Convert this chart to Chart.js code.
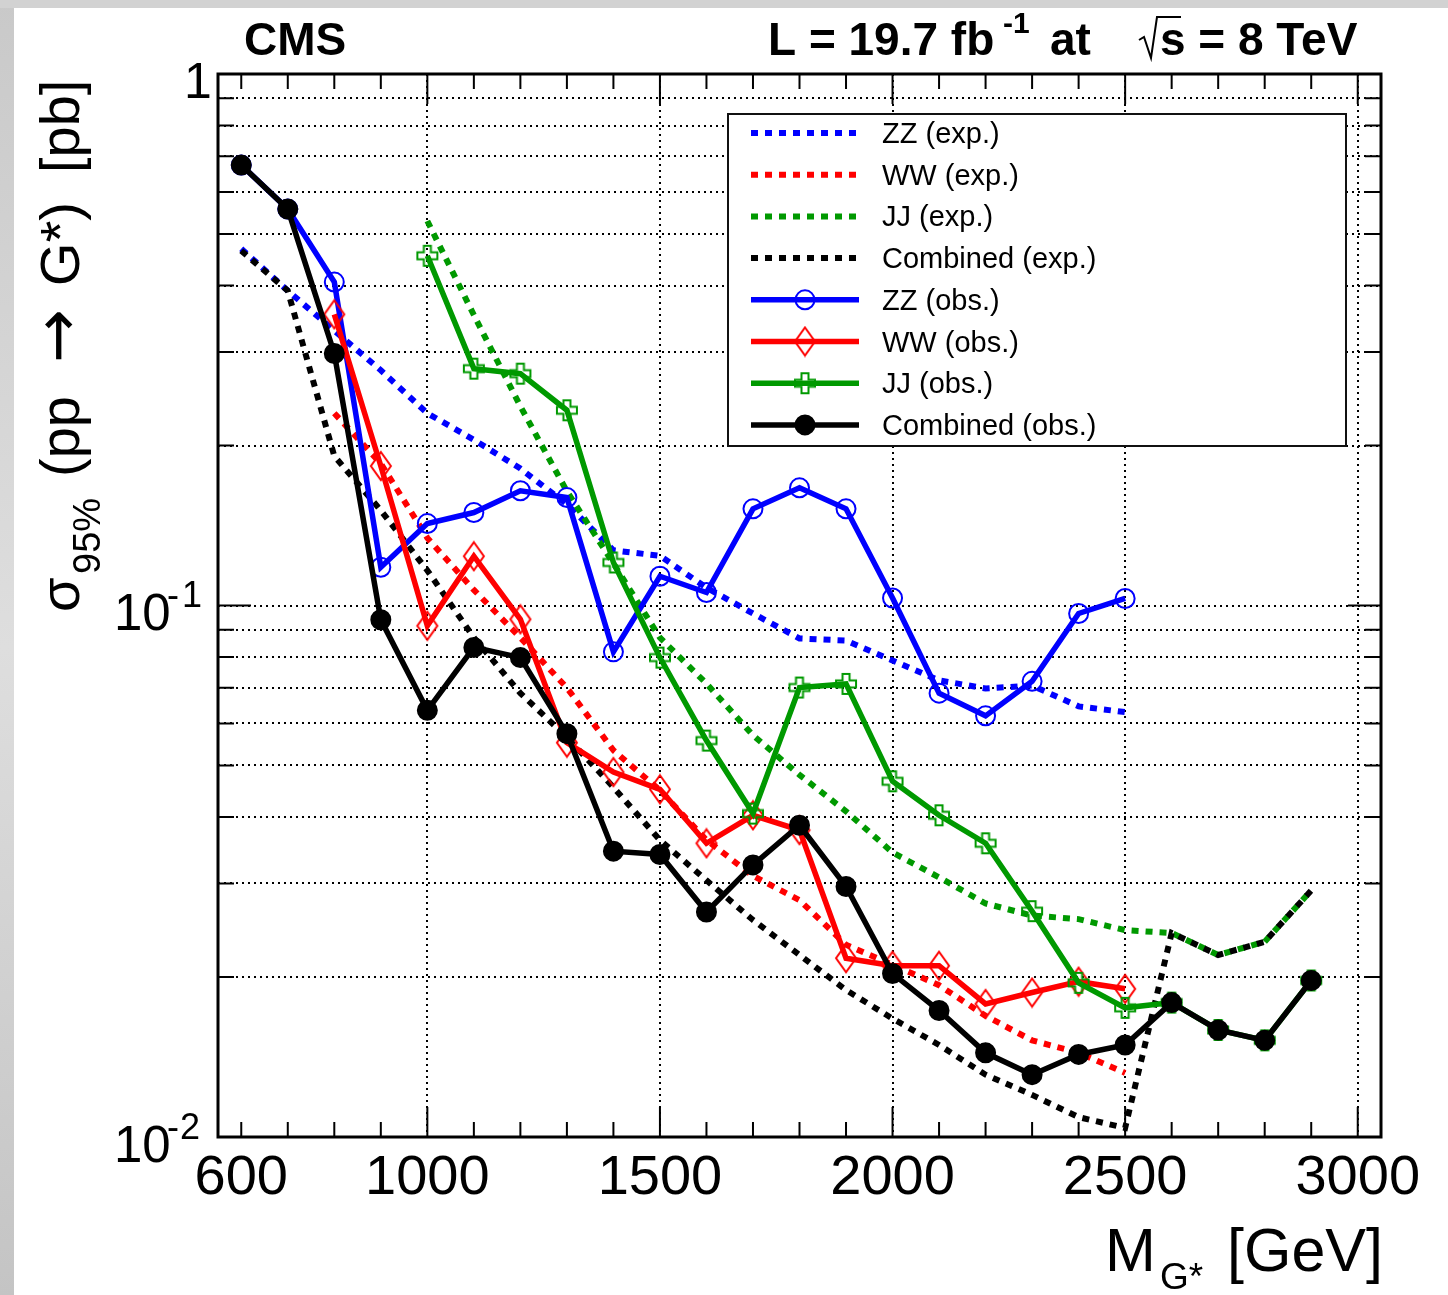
<!DOCTYPE html>
<html>
<head>
<meta charset="utf-8">
<script src="https://cdn.jsdelivr.net/npm/chart.js@4.4.1/dist/chart.umd.min.js"></script>
<style>
  html, body { margin: 0; padding: 0; background: #fff; }
  canvas { display: block; }
</style>
</head>
<body>
<canvas id="limitChart" width="1448" height="1295"></canvas>
<script>
// --- Data (upper limits, pb) ---
const massComb = [600, 700, 800, 900, 1000, 1100, 1200, 1300, 1400, 1500, 1600, 1700, 1800, 1900, 2000, 2100, 2200, 2300, 2400, 2500, 2600, 2700, 2800, 2900];
const massZZ = [600, 700, 800, 900, 1000, 1100, 1200, 1300, 1400, 1500, 1600, 1700, 1800, 1900, 2000, 2100, 2200, 2300, 2400, 2500];
const massWW = [800, 900, 1000, 1100, 1200, 1300, 1400, 1500, 1600, 1700, 1800, 1900, 2000, 2100, 2200, 2300, 2400, 2500];
const massJJ = [1000, 1100, 1200, 1300, 1400, 1500, 1600, 1700, 1800, 1900, 2000, 2100, 2200, 2300, 2400, 2500, 2600, 2700, 2800, 2900];

const zzExp = [0.469, 0.391, 0.329, 0.277, 0.230, 0.205, 0.181, 0.155, 0.127, 0.124, 0.108, 0.0966, 0.0867, 0.0859, 0.0788, 0.0723, 0.0698, 0.0707, 0.0646, 0.063];
const wwExp = [0.230, 0.185, 0.134, 0.107, 0.087, 0.070, 0.0534, 0.0449, 0.0362, 0.031, 0.0279, 0.023, 0.0211, 0.0193, 0.0169, 0.0152, 0.0144, 0.0132];
const jjExp = [0.529, 0.352, 0.237, 0.164, 0.120, 0.087, 0.0713, 0.057, 0.048, 0.041, 0.0343, 0.0308, 0.0275, 0.0261, 0.0257, 0.0245, 0.0242, 0.0220, 0.0233, 0.0291];
const combExp = [0.465, 0.391, 0.191, 0.151, 0.1164, 0.087, 0.0684, 0.0565, 0.0455, 0.0362, 0.0304, 0.0256, 0.0220, 0.0189, 0.0167, 0.0149, 0.0131, 0.0120, 0.0109, 0.0104, 0.0242, 0.0220, 0.0233, 0.0291];

const zzObs = [0.674, 0.557, 0.406, 0.118, 0.1426, 0.1496, 0.1644, 0.1596, 0.0818, 0.1135, 0.1058, 0.152, 0.1665, 0.152, 0.1033, 0.0684, 0.062, 0.072, 0.0966, 0.1031];
const wwObs = [0.353, 0.183, 0.0916, 0.1238, 0.0942, 0.0552, 0.0486, 0.0451, 0.0357, 0.0403, 0.0378, 0.0217, 0.0210, 0.0210, 0.0178, 0.0187, 0.0196, 0.0190];
const jjObs = [0.455, 0.279, 0.273, 0.233, 0.1205, 0.0798, 0.0557, 0.0406, 0.0701, 0.0712, 0.0467, 0.0403, 0.0357, 0.0266, 0.0195, 0.0175, 0.0179, 0.0159, 0.0152, 0.0197];
const combObs = [0.674, 0.557, 0.298, 0.094, 0.0635, 0.0834, 0.0798, 0.0574, 0.0345, 0.034, 0.0265, 0.0325, 0.0386, 0.0296, 0.0203, 0.0173, 0.0144, 0.0131, 0.0143, 0.0149, 0.0179, 0.0159, 0.0152, 0.0197];

// --- Axis ticks ---
const xMajorTicks = [1000, 1500, 2000, 2500, 3000];
const xMinorTicks = [600, 700, 800, 900, 1100, 1200, 1300, 1400, 1600, 1700, 1800, 1900, 2100, 2200, 2300, 2400, 2600, 2700, 2800, 2900];
const xTickLabels = [600, 1000, 1500, 2000, 2500, 3000];
const yMajorTicks = [0.01, 0.1, 1];
const yMinorTicks = [0.02, 0.03, 0.04, 0.05, 0.06, 0.07, 0.08, 0.09, 0.2, 0.3, 0.4, 0.5, 0.6, 0.7, 0.8, 0.9];
const yTickLabels = [{ v: 1, base: '1', exp: '' }, { v: 0.1, base: '10', exp: '1' }, { v: 0.01, base: '10', exp: '2' }];

const BLUE = '#0000ff', RED = '#ff0000', GREEN = '#009900', BLACK = '#000000';
const FONT = '"Liberation Sans", Arial, Helvetica, sans-serif';

// --- Marker images (ROOT-like open diamond / open cross) ---
function makeDiamond(color) {
    const c = document.createElement('canvas');
    c.width = 24; c.height = 32;
    const g = c.getContext('2d');
    g.strokeStyle = color; g.lineWidth = 2;
    g.beginPath();
    g.moveTo(12, 2); g.lineTo(22, 16); g.lineTo(12, 30); g.lineTo(2, 16);
    g.closePath(); g.stroke();
    return c;
}
function makeOpenCross(color) {
    const c = document.createElement('canvas');
    c.width = 24; c.height = 24;
    const g = c.getContext('2d');
    g.strokeStyle = color; g.lineWidth = 2;
    const m = 12, a = 3.5, r = 10;
    g.beginPath();
    g.moveTo(m - a, m - r); g.lineTo(m + a, m - r); g.lineTo(m + a, m - a); g.lineTo(m + r, m - a);
    g.lineTo(m + r, m + a); g.lineTo(m + a, m + a); g.lineTo(m + a, m + r); g.lineTo(m - a, m + r);
    g.lineTo(m - a, m + a); g.lineTo(m - r, m + a); g.lineTo(m - r, m - a); g.lineTo(m - a, m - a);
    g.closePath(); g.stroke();
    return c;
}
const diamondRed = makeDiamond(RED);
const crossGreen = makeOpenCross(GREEN);

const pts = (xs, ys) => xs.map((x, i) => ({ x: x, y: ys[i] }));

function expSet(label, xs, ys, color, order) {
    return {
        label, data: pts(xs, ys), borderColor: color, borderWidth: 6, borderDash: [7, 7],
        borderCapStyle: 'butt', pointRadius: 0, tension: 0, fill: false, order
    };
}
function obsSet(label, xs, ys, color, style, fillColor, order) {
    return {
        label, data: pts(xs, ys), borderColor: color, borderWidth: 5.5, tension: 0, fill: false, order,
        pointStyle: style, pointRadius: 9.5, pointBorderColor: color, pointBorderWidth: 2,
        pointBackgroundColor: fillColor
    };
}

const datasets = [
    expSet('ZZ (exp.)', massZZ, zzExp, BLUE, 8),
    expSet('WW (exp.)', massWW, wwExp, RED, 7),
    expSet('JJ (exp.)', massJJ, jjExp, GREEN, 6),
    expSet('Combined (exp.)', massComb, combExp, BLACK, 5),
    obsSet('ZZ (obs.)', massZZ, zzObs, BLUE, 'circle', 'rgba(0,0,0,0)', 4),
    obsSet('WW (obs.)', massWW, wwObs, RED, diamondRed, 'rgba(0,0,0,0)', 3),
    obsSet('JJ (obs.)', massJJ, jjObs, GREEN, crossGreen, 'rgba(0,0,0,0)', 2),
    obsSet('Combined (obs.)', massComb, combObs, BLACK, 'circle', BLACK, 1)
];

// --- Background, frame, ticks, labels, legend ---
const rootStyle = {
    id: 'rootStyle',
    beforeDraw(chart) {
        const ctx = chart.ctx;
        ctx.save();
        ctx.fillStyle = '#fff';
        ctx.fillRect(0, 0, chart.width, chart.height);
        const grad = ctx.createLinearGradient(0, 0, 0, chart.height);
        grad.addColorStop(0, '#c9c9c9'); grad.addColorStop(0.5, '#dedede'); grad.addColorStop(1, '#c4c4c4');
        ctx.fillStyle = grad;
        ctx.fillRect(0, 0, 14, chart.height);
        ctx.fillStyle = '#d2d2d2';
        ctx.fillRect(0, 0, chart.width, 8);
        ctx.restore();
    },
    afterDatasetsDraw(chart) {
        const ctx = chart.ctx, a = chart.chartArea;
        const xs = chart.scales.x, ys = chart.scales.y;
        ctx.save();
        ctx.strokeStyle = BLACK;
        ctx.lineWidth = 2;
        ctx.beginPath();
        const xTick = (v, len) => {
            const px = xs.getPixelForValue(v);
            ctx.moveTo(px, a.bottom); ctx.lineTo(px, a.bottom - len);
            ctx.moveTo(px, a.top); ctx.lineTo(px, a.top + len);
        };
        const yTick = (v, len) => {
            const py = ys.getPixelForValue(v);
            ctx.moveTo(a.left, py); ctx.lineTo(a.left + len, py);
            ctx.moveTo(a.right, py); ctx.lineTo(a.right - len, py);
        };
        xMinorTicks.forEach(v => xTick(v, 15));
        xMajorTicks.forEach(v => xTick(v, 30));
        yMinorTicks.forEach(v => yTick(v, 16));
        yMajorTicks.forEach(v => yTick(v, 33));
        ctx.stroke();
        ctx.lineWidth = 3;
        ctx.strokeRect(a.left, a.top, a.right - a.left, a.bottom - a.top);
        ctx.restore();
    },
    afterDraw(chart) {
        const ctx = chart.ctx;
        const xs = chart.scales.x, ys = chart.scales.y;
        ctx.save();
        ctx.fillStyle = BLACK;
        ctx.textBaseline = 'alphabetic';

        // x tick labels
        ctx.font = '56px ' + FONT;
        ctx.textAlign = 'center';
        xTickLabels.forEach(v => ctx.fillText(String(v), xs.getPixelForValue(v), 1194));

        // y tick labels with superscript exponents
        ctx.textAlign = 'left';
        yTickLabels.forEach(t => {
            const py = ys.getPixelForValue(t.v);
            if (!t.exp) {
                ctx.font = '50px ' + FONT;
                ctx.fillText(t.base, 184, py + 24);
            } else {
                ctx.font = '51px ' + FONT;
                ctx.fillText(t.base, 114, py + 24.5);
                ctx.font = '36px ' + FONT;
                ctx.fillText('-', 167, py + 1.5);
                ctx.fillText(t.exp, t.exp === '1' ? 182 : 180, py + 1.5);
            }
        });

        // x axis title  M_{G*} [GeV]
        ctx.font = '61px ' + FONT;
        ctx.fillText('M', 1105, 1271);
        ctx.font = '37px ' + FONT;
        ctx.fillText('G*', 1160, 1289);
        ctx.font = '61px ' + FONT;
        ctx.textAlign = 'right';
        ctx.fillText('[GeV]', 1383, 1271);

        // y axis title  sigma_95% (pp -> G*) [pb]
        ctx.save();
        ctx.translate(79, 610);
        ctx.rotate(-Math.PI / 2);
        ctx.textAlign = 'left';
        ctx.font = '56px ' + FONT;
        ctx.fillText('σ', -2, 0);
        ctx.font = '38px ' + FONT;
        ctx.fillText('95%', 36, 21);
        ctx.font = '56px ' + FONT;
        ctx.fillText('(pp', 133, 0);
        ctx.font = '64px "DejaVu Sans", ' + FONT;
        ctx.fillText('→', 247, 0);
        ctx.font = '56px ' + FONT;
        ctx.fillText('G*)', 324, 0);
        ctx.fillText('[pb]', 437, 0);
        ctx.restore();

        // header texts
        ctx.textAlign = 'left';
        ctx.font = 'bold 46px ' + FONT;
        ctx.fillText('CMS', 244, 55);
        ctx.fillText('L = 19.7 fb', 768, 55);
        ctx.font = 'bold 30px ' + FONT;
        ctx.fillText('-1', 1003, 33);
        ctx.font = 'bold 46px ' + FONT;
        ctx.fillText('at', 1050, 55);
        ctx.fillText('s = 8 TeV', 1160, 55);
        ctx.lineWidth = 2;
        ctx.strokeStyle = BLACK;
        ctx.beginPath();
        ctx.moveTo(1139, 40); ctx.lineTo(1144, 37); ctx.lineTo(1151, 58); ctx.lineTo(1157, 17); ctx.lineTo(1181, 17);
        ctx.stroke();

        // legend box
        const lx = 728, ly = 114, lw = 618, lh = 332;
        ctx.fillStyle = '#fff';
        ctx.fillRect(lx, ly, lw, lh);
        ctx.strokeStyle = '#111';
        ctx.lineWidth = 2;
        ctx.strokeRect(lx, ly, lw, lh);
        chart.data.datasets.forEach((ds, i) => {
            const cy = 133 + i * 41.7;
            ctx.save();
            ctx.strokeStyle = ds.borderColor;
            ctx.lineWidth = ds.borderWidth;
            ctx.setLineDash(ds.borderDash || []);
            ctx.beginPath();
            ctx.moveTo(751, cy); ctx.lineTo(859, cy);
            ctx.stroke();
            ctx.setLineDash([]);
            const st = ds.pointStyle;
            if (st === 'circle') {
                ctx.beginPath();
                ctx.arc(805, cy, 9.5, 0, Math.PI * 2);
                if (ds.pointBackgroundColor !== 'rgba(0,0,0,0)') {
                    ctx.fillStyle = ds.pointBackgroundColor;
                    ctx.fill();
                }
                ctx.lineWidth = 2;
                ctx.strokeStyle = ds.pointBorderColor;
                ctx.stroke();
            } else if (st && typeof st === 'object') {
                ctx.drawImage(st, 805 - st.width / 2, cy - st.height / 2);
            }
            ctx.restore();
            ctx.fillStyle = BLACK;
            ctx.font = '29px ' + FONT;
            ctx.textAlign = 'left';
            ctx.fillText(ds.label, 882, cy + 10);
        });
        ctx.restore();
    }
};

const ctx = document.getElementById('limitChart').getContext('2d');
new Chart(ctx, {
    type: 'line',
    data: { datasets },
    options: {
        responsive: false,
        animation: false,
        devicePixelRatio: 1,
        layout: { padding: { left: 218, top: 74, right: 67, bottom: 158 } },
        plugins: { legend: { display: false }, tooltip: { enabled: false } },
        scales: {
            x: {
                type: 'linear', min: 550, max: 3050,
                afterBuildTicks: s => { s.ticks = xMajorTicks.map(v => ({ value: v })); },
                afterFit: s => { s.height = 0; },
                ticks: { display: false },
                grid: { color: BLACK, lineWidth: 2, drawTicks: false },
                border: { display: false, dash: [2, 4] }
            },
            y: {
                type: 'logarithmic', min: 0.01, max: 1,
                afterBuildTicks: s => { s.ticks = yMajorTicks.concat(yMinorTicks).map(v => ({ value: v })); },
                afterFit: s => { s.width = 0; },
                ticks: { display: false },
                grid: { color: BLACK, lineWidth: 2, drawTicks: false },
                border: { display: false, dash: [2, 4] }
            }
        }
    },
    plugins: [rootStyle]
});
</script>
</body>
</html>
